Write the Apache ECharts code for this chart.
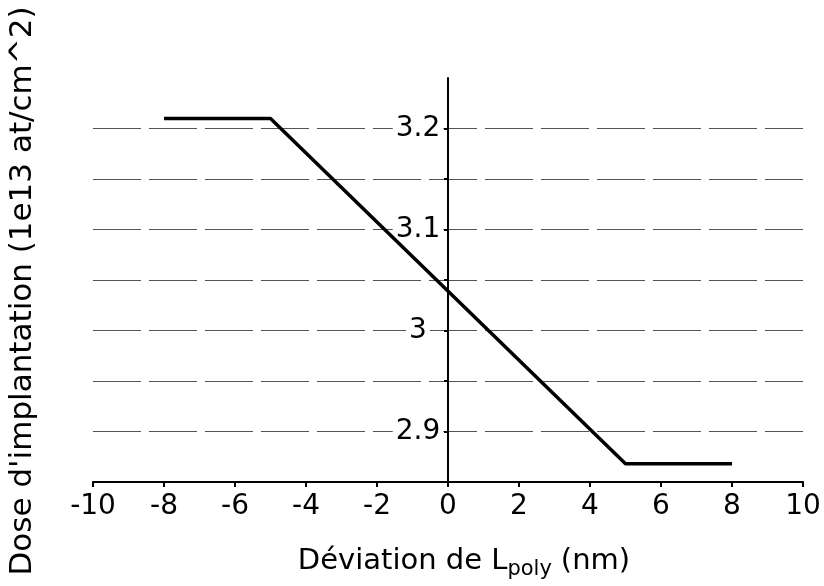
<!DOCTYPE html>
<html>
<head>
<meta charset="utf-8">
<script src="https://cdn.jsdelivr.net/npm/echarts@6/dist/echarts.min.js"></script>
<style>
html,body{margin:0;padding:0;background:#fff;}
#chart{width:824px;height:586px;}
</style>
</head>
<body>
<div id="chart"></div>
<script>
// Data
var deviationNm = [-8, -5, 5, 8];
var doseValues = [3.21, 3.21, 2.868, 2.868];
var xTicks = [-10, -8, -6, -4, -2, 0, 2, 4, 6, 8, 10];
var yLabels = [2.9, 3.0, 3.1, 3.2];
var xTitle = 'Déviation de L{sub|poly}(nm)';
var yTitle = "Dose d'implantation (1e13 at/cm^2)";

var FONT = "'DejaVu Sans', Verdana, sans-serif";
var pts = deviationNm.map(function (x, i) { return [x, doseValues[i]]; });

var chart = echarts.init(document.getElementById('chart'), null, {renderer: 'canvas'});
chart.setOption({
  backgroundColor: '#ffffff',
  animation: false,
  grid: {left: 93, right: 21, top: 78, bottom: 104, containLabel: false, outerBoundsMode: 'none'},
  xAxis: {
    type: 'value',
    min: xTicks[0], max: xTicks[xTicks.length - 1], interval: 2,
    axisLine: {onZero: false, lineStyle: {color: '#000', width: 2}},
    axisTick: {show: true, length: 5, lineStyle: {color: '#000', width: 2}},
    axisLabel: {color: '#000', fontSize: 28, fontFamily: FONT, margin: 11,
      formatter: function (v) { return xTicks.indexOf(v) >= 0 ? String(v) : ''; }},
    splitLine: {show: false},
    name: xTitle,
    nameLocation: 'middle',
    nameGap: 61,
    nameTextStyle: {color: '#000', fontSize: 29, fontFamily: FONT, padding: [0, 0, 0, 32],
      rich: {sub: {fontSize: 21, fontFamily: FONT, color: '#000', padding: [16, 9, 0, 0]}}}
  },
  yAxis: {
    type: 'value',
    min: 2.85, max: 3.25, interval: 0.05,
    offset: -355,
    axisLine: {onZero: false, lineStyle: {color: '#000', width: 2}},
    axisTick: {show: true, length: 4, lineStyle: {color: '#000', width: 2}},
    axisLabel: {color: '#000', fontSize: 28, fontFamily: FONT, margin: 30, align: 'center',
      backgroundColor: '#fff', padding: [0, 3, 0, 3],
      showMinLabel: false, showMaxLabel: false,
      formatter: function (v) {
        var r = Math.round(v * 10) / 10;
        if (Math.abs(r - v) < 1e-6 && yLabels.indexOf(r) >= 0) { return String(r); }
        return '';
      }},
    splitLine: {show: true, showMinLine: false, showMaxLine: false,
      lineStyle: {color: '#555', width: 1, type: [48, 8]}},
    name: yTitle,
    nameLocation: 'middle',
    nameRotate: 90,
    nameGap: 410,
    nameTextStyle: {color: '#000', fontSize: 31, fontFamily: FONT, padding: [0, 22, 0, 0]}
  },
  series: [{
    type: 'line',
    data: pts,
    showSymbol: false,
    symbol: 'none',
    lineStyle: {color: '#000', width: 3.5},
    z: 5
  }]
});
</script>
</body>
</html>
